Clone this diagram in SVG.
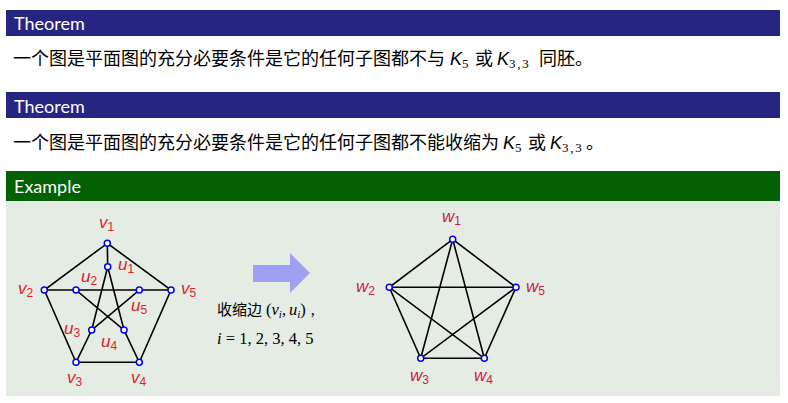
<svg xmlns="http://www.w3.org/2000/svg" width="788" height="403" viewBox="0 0 788 403">
<style>
.hdr{font-family:Lato,"Liberation Sans",sans-serif;font-size:18px;fill:#ffffff}
.cn{font-family:"Noto Sans CJK SC","Noto Sans",sans-serif;font-size:18px;fill:#000000}
.mk{font-family:"Liberation Sans",sans-serif;font-style:italic;font-size:18px;fill:#000000}
.ms{font-family:"Liberation Serif",serif;font-style:normal;font-size:13px;fill:#000000}
.ms2{letter-spacing:1.8px}
.e{stroke:#000000;stroke-width:1.6;fill:none;stroke-linecap:round}
.n{fill:#ffffff;stroke:#0000ee;stroke-width:1.5}
.lv{font-family:"Liberation Sans",sans-serif;font-style:italic;font-size:17px;fill:#e3202c}
.lw{font-family:"Liberation Sans",sans-serif;font-style:italic;font-size:17px;fill:#c91c4c}
.sb{font-style:normal;font-size:12px}
.cn2{font-family:"Noto Sans CJK SC","Noto Sans",sans-serif;font-size:15px;fill:#000000}
.mt{font-family:"Liberation Serif",serif;font-size:16.5px;fill:#000000}
</style>
<rect x="0" y="0" width="788" height="403" fill="#ffffff"/>
<!-- Theorem 1 -->
<g id="theorem1">
<rect x="6" y="10" width="774" height="26" fill="#262682"/>
<text class="hdr" x="14" y="29.5">Theorem</text>
<text class="cn" x="13" y="64.5">一个图是平面图的充分必要条件是它的任何子图都不与</text>
<text class="mk" x="450" y="64.5">K<tspan class="ms" dy="3">5</tspan></text>
<text class="cn" x="475" y="64.5">或</text>
<text class="mk" x="497" y="64.5">K<tspan class="ms ms2" dy="3">3,3</tspan></text>
<text class="cn" x="539" y="64.5">同胚。</text>
</g>
<!-- Theorem 2 -->
<g id="theorem2">
<rect x="6" y="92" width="774" height="26" fill="#262682"/>
<text class="hdr" x="14" y="112.5">Theorem</text>
<text class="cn" x="13" y="149">一个图是平面图的充分必要条件是它的任何子图都不能收缩为</text>
<text class="mk" x="503" y="149">K<tspan class="ms" dy="3">5</tspan></text>
<text class="cn" x="528" y="149">或</text>
<text class="mk" x="550" y="149">K<tspan class="ms ms2" dy="3">3,3</tspan></text>
<text class="cn" x="586" y="149">。</text>
</g>
<!-- Example -->
<g id="example">
<rect x="6" y="171" width="774" height="30" fill="#036003"/>
<rect x="6" y="201" width="774" height="195" fill="#e5ece3"/>
<text class="hdr" x="14" y="193">Example</text>
</g>
<!-- connectors -->
<g id="connectors">
<path class="e" d="M107.3,243.3 L44.3,290 L76,362.3 L139.3,362.3 L171,290 Z"/>
<path class="e" d="M107.3,243.3 L107.7,266.7"/>
<path class="e" d="M44.3,290 L76,290"/>
<path class="e" d="M171,290 L139.3,290"/>
<path class="e" d="M76,362.3 L91.7,330"/>
<path class="e" d="M139.3,362.3 L124,330"/>
<path class="e" d="M107.7,266.7 L91.7,330 L139.3,290 L76,290 L124,330 Z"/>
<path class="e" d="M452.7,239.3 L389.3,287.3 L420.7,358.3 L484.3,358.3 L516,287.3 Z"/>
<path class="e" d="M452.7,239.3 L420.7,358.3 L516,287.3 L389.3,287.3 L484.3,358.3 Z"/>
</g>
<!-- nodes Petersen -->
<g id="v1"><circle class="n" cx="107.3" cy="243.3" r="3"/><text class="lv" x="99" y="228">v<tspan class="sb" dy="3">1</tspan></text></g>
<g id="v2"><circle class="n" cx="44.3" cy="290" r="3"/><text class="lv" x="18" y="294">v<tspan class="sb" dy="3">2</tspan></text></g>
<g id="v3"><circle class="n" cx="76" cy="362.3" r="3"/><text class="lv" x="67" y="383">v<tspan class="sb" dy="3">3</tspan></text></g>
<g id="v4"><circle class="n" cx="139.3" cy="362.3" r="3"/><text class="lv" x="131" y="383">v<tspan class="sb" dy="3">4</tspan></text></g>
<g id="v5"><circle class="n" cx="171" cy="290" r="3"/><text class="lv" x="181" y="294">v<tspan class="sb" dy="3">5</tspan></text></g>
<g id="u1"><circle class="n" cx="107.7" cy="266.7" r="3"/><text class="lv" x="118" y="270">u<tspan class="sb" dy="3">1</tspan></text></g>
<g id="u2"><circle class="n" cx="76" cy="290" r="3"/><text class="lv" x="81" y="282">u<tspan class="sb" dy="3">2</tspan></text></g>
<g id="u3"><circle class="n" cx="91.7" cy="330" r="3"/><text class="lv" x="64" y="334">u<tspan class="sb" dy="3">3</tspan></text></g>
<g id="u4"><circle class="n" cx="124" cy="330" r="3"/><text class="lv" x="101" y="347">u<tspan class="sb" dy="3">4</tspan></text></g>
<g id="u5"><circle class="n" cx="139.3" cy="290" r="3"/><text class="lv" x="131" y="311">u<tspan class="sb" dy="3">5</tspan></text></g>
<!-- arrow and caption -->
<g id="arrow">
<polygon points="253,265 290,265 290,253 310,273 290,293 290,282 253,282" fill="#a0a0f2"/>
</g>
<g id="caption">
<text class="cn2" x="217" y="315">收缩边</text>
<text class="mt" x="266" y="315">(<tspan font-style="italic">v</tspan><tspan font-style="italic" font-size="11" dy="3">i</tspan><tspan dy="-3">,</tspan><tspan font-style="italic" dx="3">u</tspan><tspan font-style="italic" font-size="11" dy="3">i</tspan><tspan dy="-3">)</tspan><tspan dx="5">,</tspan></text>
<text class="mt" x="217" y="344"><tspan font-style="italic">i</tspan> = 1, 2, 3, 4, 5</text>
</g>
<!-- nodes K5 -->
<g id="w1"><circle class="n" cx="452.7" cy="239.3" r="3"/><text class="lw" x="442" y="222">w<tspan class="sb" dy="3">1</tspan></text></g>
<g id="w2"><circle class="n" cx="389.3" cy="287.3" r="3"/><text class="lw" x="356" y="292">w<tspan class="sb" dy="3">2</tspan></text></g>
<g id="w3"><circle class="n" cx="420.7" cy="358.3" r="3"/><text class="lw" x="410" y="381">w<tspan class="sb" dy="3">3</tspan></text></g>
<g id="w4"><circle class="n" cx="484.3" cy="358.3" r="3"/><text class="lw" x="474" y="381">w<tspan class="sb" dy="3">4</tspan></text></g>
<g id="w5"><circle class="n" cx="516" cy="287.3" r="3"/><text class="lw" x="526" y="292">w<tspan class="sb" dy="3">5</tspan></text></g>
</svg>
